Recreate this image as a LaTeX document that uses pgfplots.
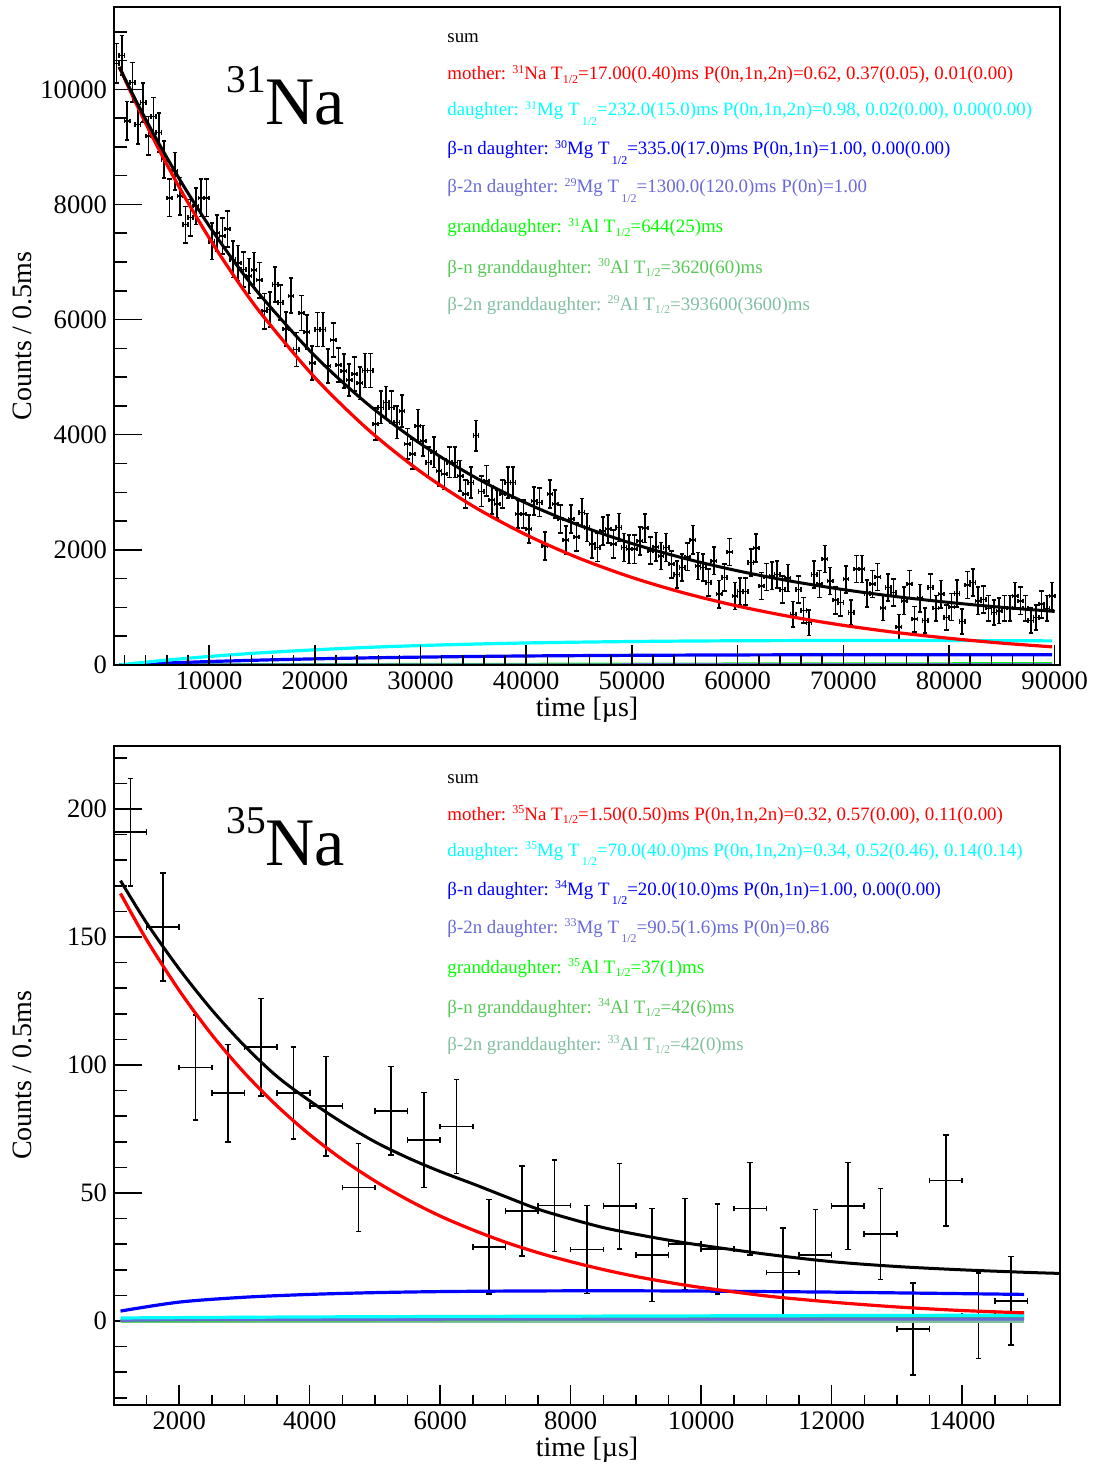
\documentclass[border=0pt]{standalone}
\usepackage{fontspec}
\setmainfont{Liberation Serif}
\usepackage{pgfplots}
\pgfplotsset{compat=1.18}
\usepackage{pgfplotstable}

\definecolor{rred}{RGB}{255,0,0}
\definecolor{rcyan}{RGB}{0,255,255}
\definecolor{rblue}{RGB}{0,0,255}
\definecolor{rlav}{RGB}{105,105,215}
\definecolor{rgreen}{RGB}{0,255,0}
\definecolor{rbngd}{RGB}{85,200,85}
\definecolor{rbbgd}{RGB}{128,192,160}

\newcommand{\iso}[1]{\raisebox{0.8ex}{\fontsize{6}{6}\selectfont #1}}
\newcommand{\hl}{\raisebox{-0.45ex}{\fontsize{6}{6}\selectfont 1/2}}
\newcommand{\hlg}{\hspace{0.12em}\raisebox{-1.1ex}{\fontsize{6}{6}\selectfont 1/2}}

\pgfplotstableread{
x y ey
1250 10450 345
1750 10590 345
2250 9450 335
2750 10120 345
3250 9390 335
3750 9770 335
4250 9190 335
4750 9525 335
5250 9250 335
5750 8780 325
6250 8115 325
6750 8580 325
7250 8145 325
7750 7650 315
8250 7770 315
8750 7970 315
9250 8115 325
9750 8115 325
10250 7360 315
10750 7505 315
11250 7450 315
11750 7575 315
12250 7045 315
12750 6985 305
13250 6870 305
13750 6755 305
14250 6860 305
14750 6685 305
15250 6145 305
15750 6175 305
16250 6610 305
16750 6300 305
17250 5840 295
17750 6415 305
18250 5480 295
18750 6115 305
19250 5780 295
19750 5245 295
20250 5825 295
20750 5825 295
21250 5190 295
21750 5650 295
22250 5215 295
22750 5110 295
23250 4950 280
23750 5055 295
24250 4895 280
24750 5115 295
25250 5115 295
25750 4185 280
26250 4475 280
26750 4560 280
27250 4475 280
27750 4215 280
28250 4415 280
28750 3840 265
29250 3665 265
29750 4155 280
30250 3895 265
30750 3520 265
31250 3695 265
31750 3375 265
32250 3315 265
32750 3520 265
33250 3520 265
33750 3285 265
34250 2970 245
34750 3170 265
35250 3985 265
35750 3015 265
36250 3200 265
36750 2865 245
37250 2795 245
37750 2970 245
38250 3170 265
38750 3170 265
39250 2620 245
39750 2620 245
40250 2360 245
40750 2850 245
41250 2825 245
41750 2070 245
42250 2970 245
42750 2795 245
43250 2535 245
43750 2170 245
44250 2535 245
44750 2225 245
45250 2650 245
45750 2390 245
46250 2100 245
46750 2040 245
47250 2330 245
47750 2360 245
48250 2100 245
48750 2390 245
49250 2040 245
49750 2010 245
50250 2010 245
50750 2155 245
51250 2375 245
51750 1985 235
52250 2055 245
52750 1895 235
53250 2040 245
53750 1750 235
54250 1575 235
54750 1695 235
55250 1880 235
55750 2175 245
56250 1720 235
56750 1695 235
57250 1430 235
57750 1810 235
58250 1230 235
58750 1520 235
59250 1965 235
59750 1200 235
60250 1275 235
60750 1275 235
61250 1780 235
61750 2030 245
62250 1375 235
62750 1530 235
63250 1550 235
63750 1575 235
64250 1315 235
64750 1510 235
65250 880 220
65750 1315 235
66250 950 220
66750 735 220
67250 1575 235
67750 1405 235
68250 1840 235
68750 1460 235
69250 1125 235
69750 1085 235
70250 1490 235
70750 910 220
71250 1665 235
71750 1665 235
72250 1240 235
72750 1405 235
73250 1530 235
73750 995 220
74250 1345 235
74750 1260 235
75250 660 220
75750 1115 235
76250 1405 235
76750 795 220
77250 1160 235
77750 775 220
78250 1345 235
78750 985 220
79250 1230 235
79750 825 220
80250 1010 235
80750 1240 235
81250 755 220
81750 1390 235
82250 1430 235
82750 1115 235
83250 1140 235
83750 985 220
84250 910 220
84750 940 220
85250 985 220
85750 985 220
86250 1200 235
86750 1115 235
87250 985 220
87750 775 220
88250 825 220
88750 1055 235
89250 985 220
89750 1200 235
}\datatop

\pgfplotstableread{
x y ey
1250 190.9 21
1750 153.9 21
2250 99.1 20.5
2750 89.0 19
3250 107.0 19
3750 89.0 18
4250 83.9 19.5
4750 52.1 17.2
5250 82.1 17.3
5750 70.7 18.6
6250 76.0 18.3
6750 29.0 18.4
7250 43.0 17.5
7750 45.1 17.9
8250 28.0 17.2
8750 44.9 16.7
9250 25.8 18.1
9750 30.1 17.8
10250 28.1 17.5
10750 43.9 18.1
11250 18.9 17.5
11750 25.8 17.8
12250 44.9 17.0
12750 34.0 17.7
13250 -3.1 17.9
13750 54.9 17.7
14250 2.0 16.7
14750 7.9 17.3
}\databot

\pgfplotsset{
  rootbase/.style={
    scale only axis, width=473pt,
    anchor=south west,
    axis line style={line width=1pt, black},
    tick align=inside,
    xtick pos=left, ytick pos=left,
    every tick/.style={black, line width=0.75pt},
    ticklabel style={font=\fontsize{13.3}{14}\selectfont},
    label style={font=\fontsize{14}{16}\selectfont},
    /pgf/number format/assume math mode=true,
    /pgf/number format/1000 sep={},
    scaled ticks=false,
  },
  curve/.style={line width=1.6pt, smooth, no marks},
  databars/.style={black, mark=none, forget plot, line width=0.8pt,
    draw opacity=0,
    error bars/.cd, x dir=both, x fixed=250, y dir=both, y explicit,
    error mark=-,
    error bar style={draw=black, draw opacity=1, line width=0.8pt},
    error mark options={rotate=90, draw=black, draw opacity=1, mark size=#1, line width=0.8pt}},
}

\begin{document}
\begin{tikzpicture}
\useasboundingbox (0,0) rectangle (548pt,-733pt);

% ---------------- top panel ----------------
\begin{axis}[rootbase, at={(57pt,-332.5pt)}, height=329pt,
  xmin=1000, xmax=90500, ymin=0, ymax=11430,
  xtick=\empty,
  ytick={0,2000,4000,6000,8000,10000},
  minor ytick={500,1000,...,11000},
  major tick length=14pt, minor tick length=6.5pt,
  ylabel={Counts / 0.5ms},
  ylabel style={at={(axis description cs:-0.0867,0.5)}, anchor=base},
]
\addplot[databars=1.1pt] table[x=x, y=y, y error=ey]{\datatop};
\addplot[curve, rbbgd] coordinates {(1500,0)(30000,0.2)(60000,0.4)(89750,0.5)};
\addplot[curve, rbngd] coordinates {(1500,0)(30000,1)(60000,2)(89750,3)};
\addplot[curve, rgreen] coordinates {(1500,0)(10000,2)(20000,5)(30000,8)(40000,11)(50000,14)(60000,16)(70000,18)(80000,20)(89750,22)};
\addplot[curve, rlav] coordinates {(1500,0)(10000,1)(30000,2)(60000,3)(89750,3)};
\addplot[curve, rblue] coordinates {(1500,0)(3000,12)(5000,27)(7500,44)(10000,60)(12500,73)(15000,86)(20000,107)(25000,124)(30000,137)(35000,148)(40000,157)(45000,163)(50000,168)(55000,172)(60000,175)(65000,177)(70000,178)(75000,179)(80000,179)(85000,179)(89750,178)};
\addplot[curve, rcyan] coordinates {(1500,0)(3000,30)(5000,68)(7500,110)(10000,148)(12500,182)(15000,213)(20000,264)(25000,306)(30000,338)(35000,363)(40000,383)(45000,397)(50000,408)(55000,416)(60000,421)(65000,424)(70000,425)(75000,425)(80000,424)(85000,422)(89750,419)};
\addplot[curve, rred] coordinates {(1500,10388)(3000,9789)(5000,9044)(7500,8192)(10000,7419)(12500,6718)(15000,6086)(20000,4993)(25000,4096)(30000,3360)(35000,2756)(40000,2261)(45000,1855)(50000,1521)(55000,1248)(60000,1024)(65000,840)(70000,689)(75000,565)(80000,464)(85000,380)(89750,316)};
\addplot[curve, black, line width=1.5pt] coordinates {(1500,10388)(3000,9831)(5000,9140)(7500,8347)(10000,7629)(12500,6976)(15000,6388)(20000,5369)(25000,4532)(30000,3843)(35000,3276)(40000,2812)(45000,2427)(50000,2111)(55000,1851)(60000,1636)(65000,1458)(70000,1310)(75000,1188)(80000,1087)(85000,1002)(90000,931)};
\end{axis}
\begin{axis}[rootbase, at={(57pt,-332.5pt)}, height=329pt,
  xmin=1000, xmax=90500, ymin=0, ymax=11430,
  ytick=\empty,
  xtick={10000,20000,...,90000},
  minor xtick={2000,4000,...,90000},
  major tick length=10pt, minor tick length=5pt,
  xlabel={time [µs]},
  xlabel style={at={(axis description cs:0.5,-0.0775)}, anchor=base},
]
\end{axis}

% ---------------- bottom panel ----------------
\begin{axis}[rootbase, at={(57pt,-702.5pt)}, height=329.5pt,
  xmin=1000, xmax=15500, ymin=-32.8, ymax=224.6,
  xtick=\empty,
  ytick={0,50,100,150,200},
  minor ytick={-30,-20,...,220},
  major tick length=14pt, minor tick length=6.5pt,
  ylabel={Counts / 0.5ms},
  ylabel style={at={(axis description cs:-0.0867,0.5)}, anchor=base},
]
\addplot[databars=1.4pt] table[x=x, y=y, y error=ey]{\databot};
\addplot[curve, rbbgd] coordinates {(1100,0)(8000,0)(14950,0)};
\addplot[curve, rbngd] coordinates {(1100,0)(8000,0.6)(14950,1.0)};
\addplot[curve, rgreen] coordinates {(1100,0.2)(4000,0.8)(8000,1.3)(14950,1.8)};
\addplot[curve, rlav] coordinates {(1100,0.3)(4000,0.7)(14950,0.8)};
\addplot[curve, rcyan] coordinates {(1100,1.2)(4000,1.6)(8000,1.9)(14950,2.3)};
\addplot[curve, rblue] coordinates {(1100,3.9)(2000,7.4)(3000,9.3)(4000,10.4)(5000,11.1)(6000,11.5)(7000,11.7)(8000,11.8)(9000,11.8)(10000,11.7)(11000,11.5)(12000,11.3)(13000,11.0)(14000,10.7)(14950,10.4)};
\addplot[curve, rred] coordinates {(1100,167.0)(1500,148.9)(2000,129.1)(2500,111.8)(3000,96.9)(3500,84.0)(4000,72.8)(4500,63.1)(5000,54.7)(5500,47.4)(6000,41.0)(6500,35.6)(7000,30.8)(7500,26.7)(8000,23.2)(8500,20.1)(9000,17.4)(9500,15.1)(10000,13.1)(11000,9.8)(12000,7.4)(13000,5.5)(14000,4.1)(14950,3.2)};
\addplot[curve, black, line width=1.5pt] coordinates {(1100,172)(1500,155.5)(2000,137.5)(2500,121.5)(3000,107.5)(3500,95.5)(4000,86)(4500,77.5)(5000,70)(5500,63.8)(6000,58.4)(6500,53.6)(7000,48.6)(7500,43.7)(8000,39.9)(8500,36.5)(9000,33.9)(9500,31.6)(10000,29.6)(11000,26.1)(12000,23.2)(13000,21.3)(14000,20.0)(15000,19.0)(15500,18.6)};
\end{axis}
\begin{axis}[rootbase, at={(57pt,-702.5pt)}, height=329.5pt,
  xmin=1000, xmax=15500, ymin=-32.8, ymax=224.6,
  ytick=\empty,
  xtick={2000,4000,...,14000},
  minor xtick={1500,2000,...,15000},
  major tick length=10pt, minor tick length=5pt,
  xlabel={time [µs]},
  xlabel style={at={(axis description cs:0.5,-0.0774)}, anchor=base},
]
\end{axis}

% ---------------- annotations ----------------
\begin{scope}[x=0.5pt, y=-0.5pt, every node/.style={anchor=base west, inner sep=0pt}]
\node[font=\fontsize{19.7}{20}\selectfont] at (226,93) {31};
\node[font=\fontsize{34}{34}\selectfont] at (265,125) {Na};
\node[font=\fontsize{19.7}{20}\selectfont] at (226,833) {35};
\node[font=\fontsize{34}{34}\selectfont] at (265,865) {Na};

\begin{scope}[every node/.append style={font=\fontsize{9.45}{11}\selectfont}]
\node at (447,43) {sum};
\node[text=rred] at (447,80) {mother: \iso{31}Na T\hl=17.00(0.40)ms P(0n,1n,2n)=0.62, 0.37(0.05), 0.01(0.00)};
\node[text=rcyan] at (447,116) {daughter: \iso{31}Mg T\hlg=232.0(15.0)ms P(0n,1n,2n)=0.98, 0.02(0.00), 0.00(0.00)};
\node[text=rblue] at (447,155) {β-n daughter: \iso{30}Mg T\hlg=335.0(17.0)ms P(0n,1n)=1.00, 0.00(0.00)};
\node[text=rlav] at (447,193) {β-2n daughter: \iso{29}Mg T\hlg=1300.0(120.0)ms P(0n)=1.00};
\node[text=rgreen] at (447,233) {granddaughter: \iso{31}Al T\hl=644(25)ms};
\node[text=rbngd] at (447,273) {β-n granddaughter: \iso{30}Al T\hl=3620(60)ms};
\node[text=rbbgd] at (447,310) {β-2n granddaughter: \iso{29}Al T\hl=393600(3600)ms};

\node at (447,783) {sum};
\node[text=rred] at (447,820) {mother: \iso{35}Na T\hl=1.50(0.50)ms P(0n,1n,2n)=0.32, 0.57(0.00), 0.11(0.00)};
\node[text=rcyan] at (447,856) {daughter: \iso{35}Mg T\hlg=70.0(40.0)ms P(0n,1n,2n)=0.34, 0.52(0.46), 0.14(0.14)};
\node[text=rblue] at (447,895) {β-n daughter: \iso{34}Mg T\hlg=20.0(10.0)ms P(0n,1n)=1.00, 0.00(0.00)};
\node[text=rlav] at (447,933) {β-2n daughter: \iso{33}Mg T\hlg=90.5(1.6)ms P(0n)=0.86};
\node[text=rgreen] at (447,973) {granddaughter: \iso{35}Al T\hl=37(1)ms};
\node[text=rbngd] at (447,1013) {β-n granddaughter: \iso{34}Al T\hl=42(6)ms};
\node[text=rbbgd] at (447,1050) {β-2n granddaughter: \iso{33}Al T\hl=42(0)ms};
\end{scope}
\end{scope}
\end{tikzpicture}
\end{document}
